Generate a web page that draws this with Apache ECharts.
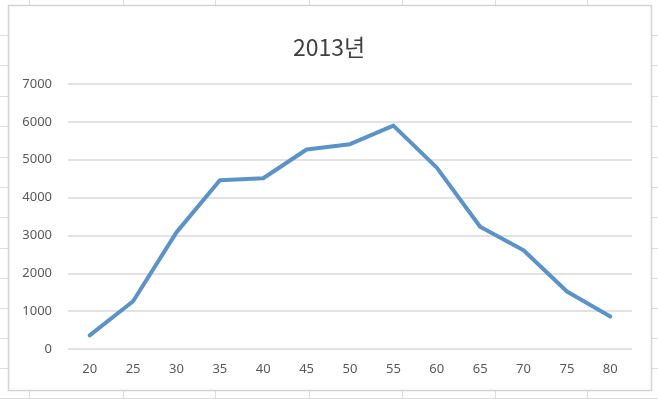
<!DOCTYPE html>
<html>
<head>
<meta charset="utf-8">
<script src="https://cdn.jsdelivr.net/npm/echarts@6/dist/echarts.min.js"></script>
<style>
html,body{margin:0;padding:0;background:#fff;}
#chart{width:658px;height:399px;}
</style>
</head>
<body>
<div id="chart"></div>
<script>
const titleText = '2013년';
const categories = ['20','25','30','35','40','45','50','55','60','65','70','75','80'];
const values = [360, 1260, 3080, 4460, 4510, 5270, 5410, 5900, 4790, 3230, 2610, 1520, 860];
const yTicks = { min: 0, max: 7000, interval: 1000 };

const cellX = [29, 123, 215, 309, 402, 495, 587];
const cellY = [35, 65, 96, 126, 157, 187, 217, 248, 278, 308, 338, 368, 398];

const graphics = [];
cellX.forEach(x => graphics.push({type:'line', z:-20, silent:true, shape:{x1:x+0.5,y1:0,x2:x+0.5,y2:399}, style:{stroke:'#dcdcdc', lineWidth:1}}));
cellY.forEach(y => graphics.push({type:'line', z:-20, silent:true, shape:{x1:0,y1:y+0.5,x2:658,y2:y+0.5}, style:{stroke:'#dcdcdc', lineWidth:1}}));
graphics.push({type:'rect', z:-10, silent:true, shape:{x:8.5,y:5.5,width:643,height:385}, style:{fill:'#ffffff', stroke:'#d4d4d4', lineWidth:1.5}});

const chart = echarts.init(document.getElementById('chart'));
chart.setOption({
  animation: false,
  backgroundColor: '#ffffff',
  graphic: graphics,
  title: {
    text: titleText,
    left: 'center',
    top: 31,
    textStyle: { fontFamily: 'Noto Sans CJK KR', fontSize: 23, fontWeight: 'normal', color: '#404040' }
  },
  grid: { left: 68, right: 26, top: 84, bottom: 50, containLabel: false },
  xAxis: {
    type: 'category',
    data: categories,
    boundaryGap: true,
    axisLine: { show: false },
    axisTick: { show: false },
    axisLabel: { margin: 14, fontFamily: 'Noto Sans', fontSize: 13, color: '#595959' }
  },
  yAxis: {
    type: 'value',
    min: yTicks.min, max: yTicks.max, interval: yTicks.interval,
    axisLine: { show: false },
    axisTick: { show: false },
    axisLabel: { margin: 16, fontFamily: 'Noto Sans', fontSize: 13, color: '#595959', formatter: v => String(v) },
    splitLine: { lineStyle: { color: '#d9d9d9', width: 1.5 } }
  },
  series: [{
    type: 'line',
    data: values,
    symbol: 'none',
    lineStyle: { color: '#5b93c9', width: 4, cap: 'round', join: 'round' }
  }]
});
</script>
</body>
</html>
